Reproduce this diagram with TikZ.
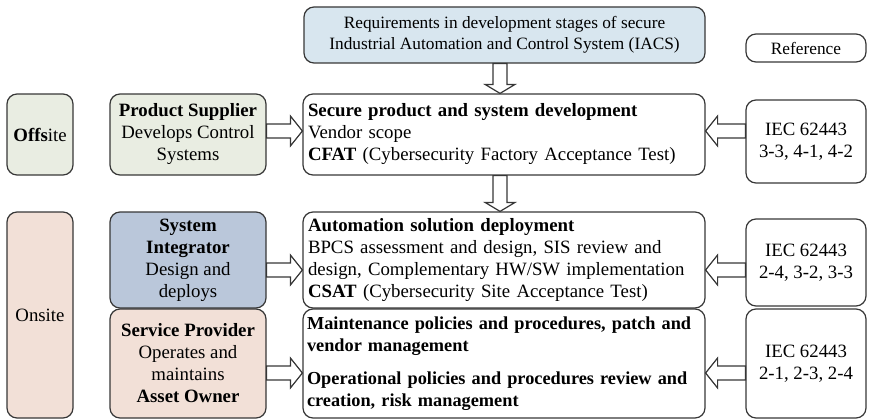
\documentclass[tikz,border=0pt]{standalone}
\usepackage{fontspec}
\setmainfont{Liberation Serif}
\usetikzlibrary{calc}
\definecolor{reqblue}{RGB}{216,230,239}
\definecolor{offgreen}{RGB}{233,237,226}
\definecolor{onpink}{RGB}{242,224,215}
\definecolor{intblue}{RGB}{186,199,218}
\definecolor{edgegray}{RGB}{55,55,55}
\newcommand\diagfont{\fontsize{18.8}{22}\selectfont}
\tikzset{
  box/.style={draw=edgegray, line width=1.2pt, rounded corners=10pt, inner sep=0pt, align=center, font=\diagfont},
  stagebox/.style={box, inner xsep=5pt, text width=392pt, align=left},
  hollow/.style={draw=edgegray, line width=1.2pt, fill=white, line join=miter},
}
% hollow block arrow: [head length]{from}{to}
\newcommand\hollowarrow[3][12]{%
  \draw[hollow] let \p1=(#2), \p2=(#3), \n1={atan2(\y2-\y1,\x2-\x1)}, \n2={veclen(\x2-\x1,\y2-\y1)} in
    [shift={(\p1)}, rotate=\n1] (0,7) -- (\n2-#1,7) -- (\n2-#1,15) -- (\n2,0) -- (\n2-#1,-15) -- (\n2-#1,-7) -- (0,-7) -- cycle;}
\begin{document}
\begin{tikzpicture}[x=1pt,y=-1pt]
  \useasboundingbox (0,0) rectangle (870,420);
%%
  % Node: require
  \node[box, fill=reqblue, minimum width=401pt, minimum height=56pt, font=\fontsize{17.3}{21.5}\selectfont] (require) at (504.5,35)
    {Requirements in development stages of secure\\Industrial Automation and Control System (IACS)};
  % Node: reference
  \node[box, minimum width=120pt, minimum height=28pt, font=\fontsize{17.3}{21.5}\selectfont] (reference) at (806,48) {Reference};
  % Node: offsite
  \node[box, fill=offgreen, minimum width=66pt, minimum height=81pt] (offsite) at (40,134.5) {\textbf{Offs}ite};
  % Node: supplier
  \node[box, fill=offgreen, minimum width=156pt, minimum height=81pt] (supplier) at (188,134.5)
    {\textbf{Product Supplier}\\Develops Control\\Systems};
  % Node: secure
  \node[stagebox, minimum height=81pt] (secure) at (504,134.5)
    {\textbf{Secure product and system development}\\Vendor scope\\\textbf{CFAT} (Cybersecurity Factory Acceptance Test)};
  % Node: iec1
  \node[box, minimum width=120pt, minimum height=83pt] (iec1) at (806,141.5) {IEC 62443\\3-3, 4-1, 4-2};
  % Node: onsite
  \node[box, fill=onpink, minimum width=66pt, minimum height=206pt] (onsite) at (40,315) {Onsite};
  % Node: integrator
  \node[box, fill=intblue, minimum width=156pt, minimum height=96pt] (integrator) at (188,260)
    {\textbf{System}\\\textbf{Integrator}\\Design and\\deploys};
  % Node: provider
  \node[box, fill=onpink, minimum width=156pt, minimum height=109pt] (provider) at (188,363.5)
    {\textbf{Service Provider}\\Operates and\\maintains\\\textbf{Asset Owner}};
  % Node: deploy
  \node[stagebox, minimum height=96pt] (deploy) at (504,260)
    {\textbf{Automation solution deployment}\\BPCS assessment and design, SIS review and\\design, Complementary HW/SW implementation\\\textbf{CSAT} (Cybersecurity Site Acceptance Test)};
  % Node: iec2
  \node[box, minimum width=120pt, minimum height=87pt] (iec2) at (806,262.5) {IEC 62443\\2-4, 3-2, 3-3};
  % Node: operate
  \node[stagebox, inner xsep=4pt, text width=394pt, minimum height=109pt, font=\fontsize{18.3}{22}\selectfont\bfseries] (operate) at (504,363.5)
    {Maintenance policies and procedures, patch and\\vendor management\\[11pt]Operational policies and procedures review and\\creation, risk management};
  % Node: iec3
  \node[box, minimum width=120pt, minimum height=109pt] (iec3) at (806,363.5) {IEC 62443\\2-1, 2-3, 2-4};
%%
  \coordinate (spine) at (500,0);
  \coordinate (row1) at (0,131);
  \coordinate (row2) at (0,270);
  \coordinate (row3) at (0,373);
  % Edge: require -> secure
  \hollowarrow[9]{spine |- require.south}{spine |- secure.north}
  % Edge: secure -> deploy
  \hollowarrow[9]{spine |- secure.south}{spine |- deploy.north}
  % Edge: supplier -> secure
  \hollowarrow{supplier.east |- row1}{secure.west |- row1}
  % Edge: iec1 -> secure
  \hollowarrow{iec1.west |- row1}{secure.east |- row1}
  % Edge: integrator -> deploy
  \hollowarrow{integrator.east |- row2}{deploy.west |- row2}
  % Edge: iec2 -> deploy
  \hollowarrow{iec2.west |- row2}{deploy.east |- row2}
  % Edge: provider -> operate
  \hollowarrow{provider.east |- row3}{operate.west |- row3}
  % Edge: iec3 -> operate
  \hollowarrow{iec3.west |- row3}{operate.east |- row3}
%
\end{tikzpicture}
\end{document}
